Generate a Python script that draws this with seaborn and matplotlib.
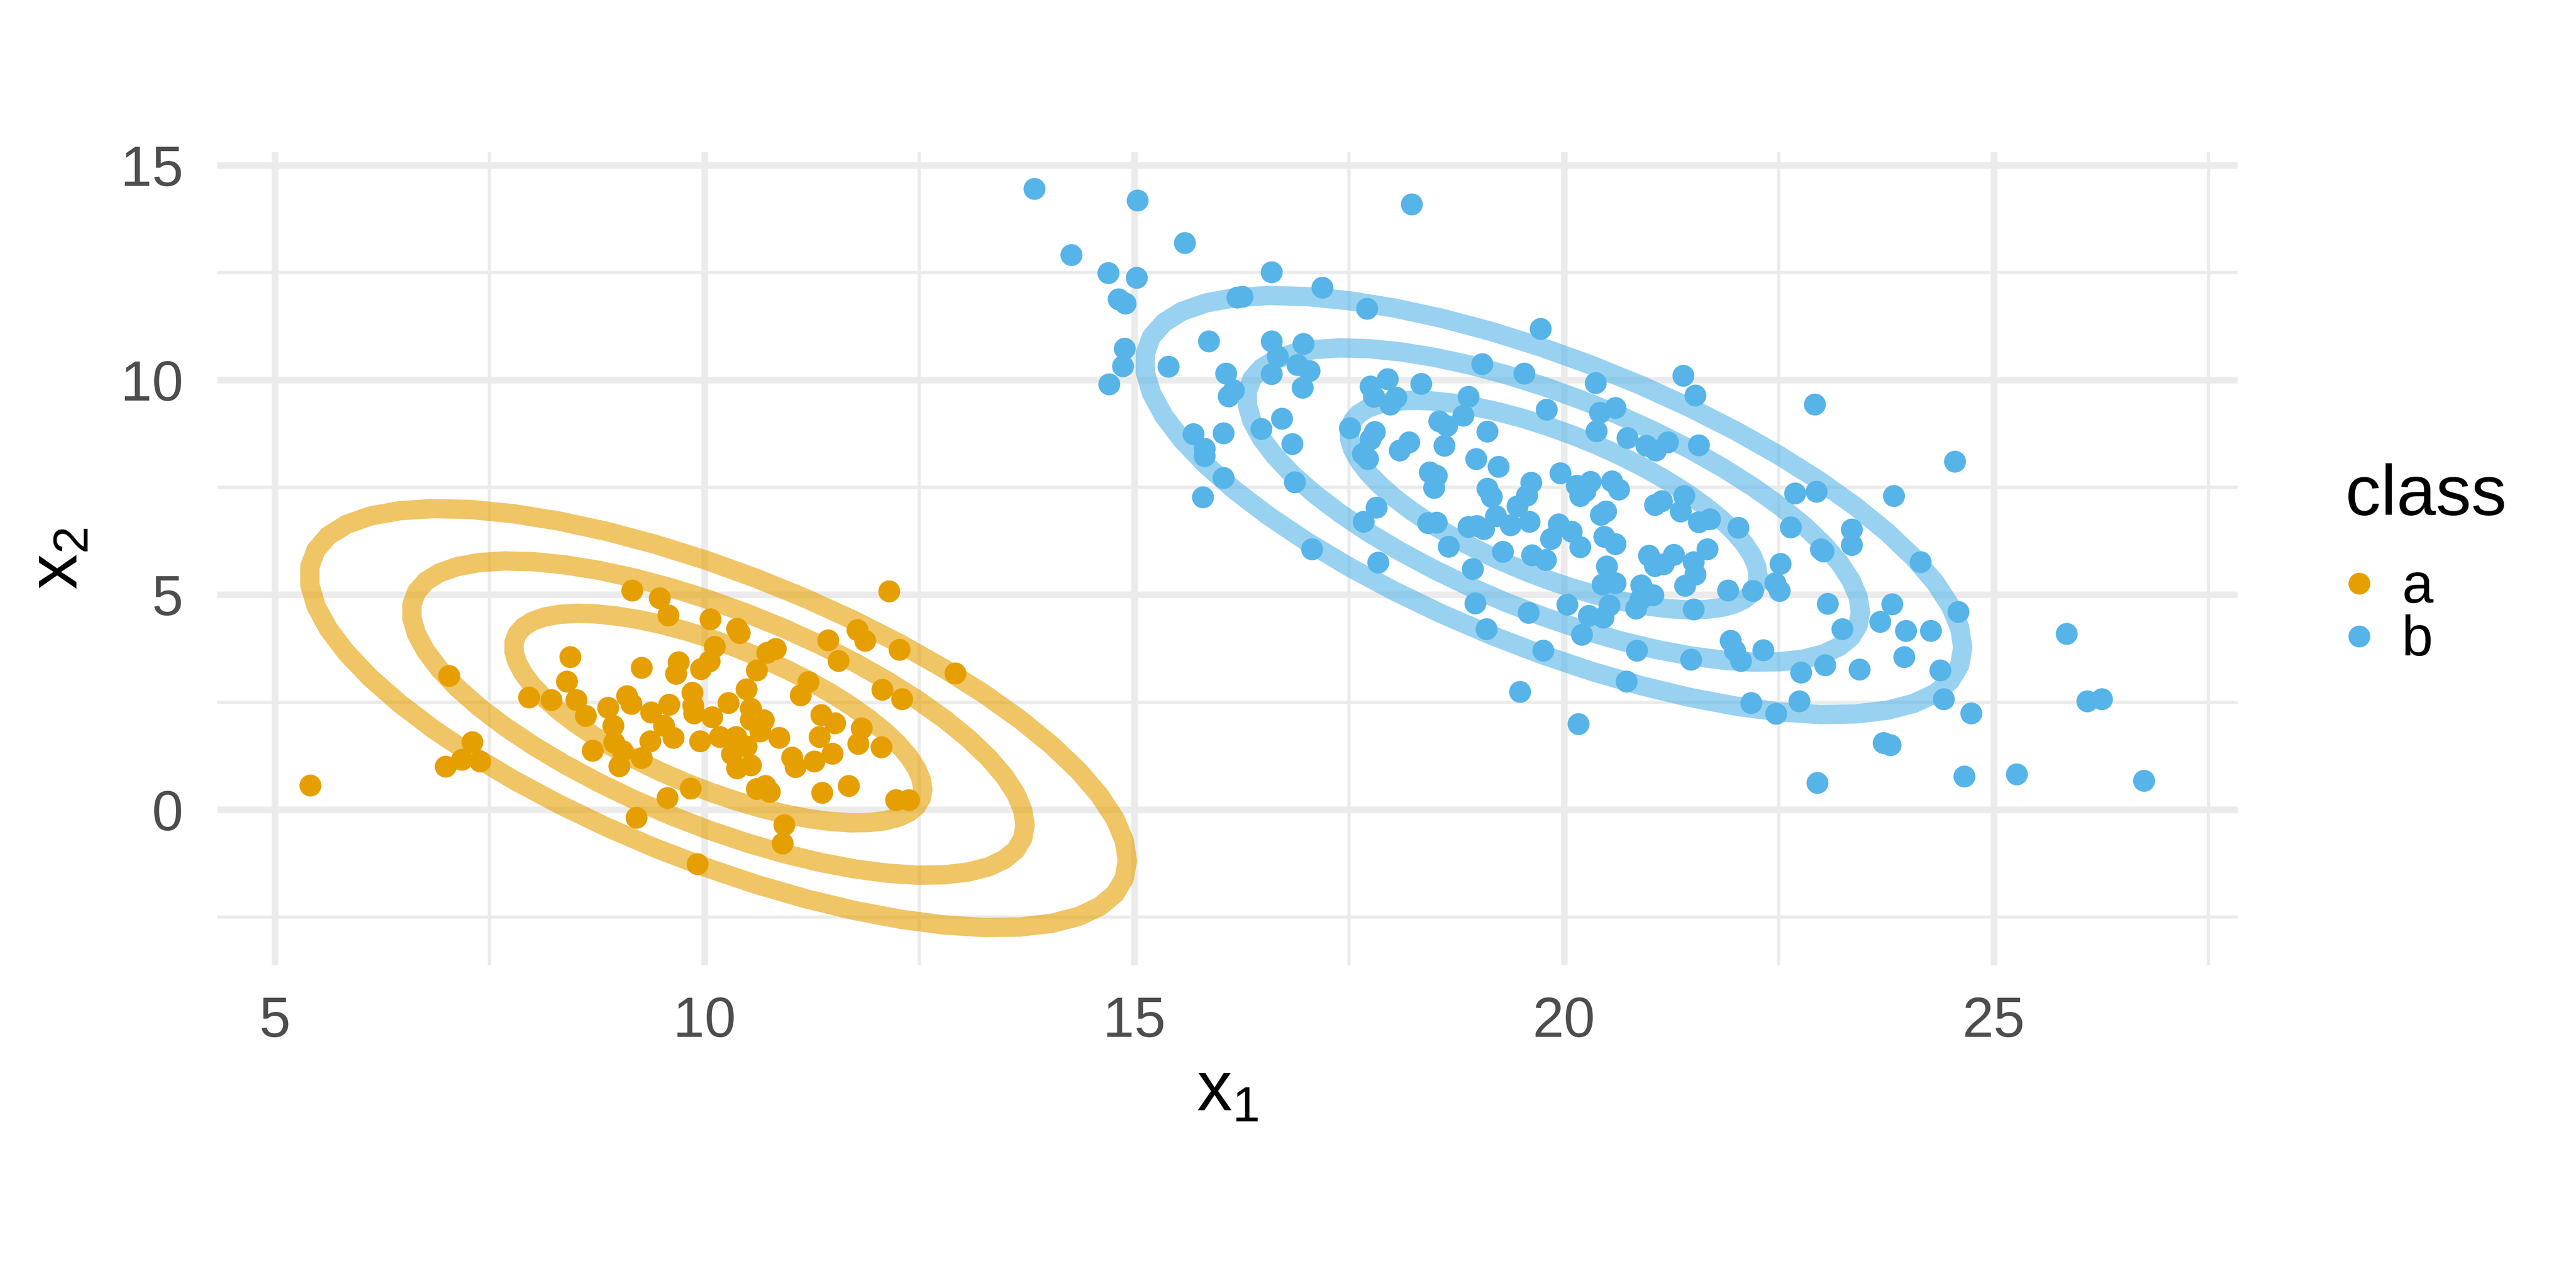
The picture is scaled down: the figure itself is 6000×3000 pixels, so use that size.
import numpy as np
import pandas as pd
import matplotlib
matplotlib.use("Agg")
import matplotlib.pyplot as plt
from matplotlib.lines import Line2D
from matplotlib.ticker import MultipleLocator
import seaborn as sns

# ---------------- data ----------------
a_x1 = [5.415, 7.03, 7.30, 6.99, 7.18, 7.39,
        9.16, 9.48, 9.58, 10.07, 10.38, 10.41,
        12.15, 11.78, 11.87, 11.44, 12.27, 12.92, 11.56,
        10.12, 10.06, 9.96, 9.70, 9.67, 9.27,
        8.44, 8.40, 7.96, 8.22, 8.51, 8.62, 8.88,
        9.10, 9.15, 8.94, 8.70, 8.95, 9.05, 9.01, 9.27,
        9.38, 9.59, 9.53, 9.64, 9.37, 9.86, 9.88, 9.87,
        10.09, 10.28, 10.49, 10.61, 10.73, 10.83,
        10.54, 10.54, 10.69, 9.95, 10.18, 10.37, 10.49, 10.32,
        10.65, 10.87, 10.38, 10.54,
        11.21, 11.12, 11.36, 11.52, 11.34, 11.02, 11.06, 11.28, 11.49,
        11.83, 11.79, 12.06, 12.07, 12.30,
        9.84, 9.57, 9.21, 9.92, 10.61, 10.71, 10.76,
        10.93, 10.91, 11.37, 11.68, 12.23, 12.38]
a_x2 = [0.56, 3.11, 1.57, 1.00, 1.16, 1.12,
        5.10, 4.92, 4.52, 4.43, 4.21, 4.11,
        5.08, 4.18, 3.93, 3.94, 3.72, 3.17, 3.46,
        3.79, 3.45, 3.27, 3.43, 3.16, 3.30,
        3.55, 2.98, 2.61, 2.55, 2.55, 2.18, 2.37,
        2.64, 2.46, 1.95, 1.37, 1.56, 1.36, 1.01, 1.20,
        2.26, 2.44, 1.95, 1.67, 1.59, 2.72, 2.24, 2.42,
        2.15, 2.48, 2.80, 3.24, 3.65, 3.74,
        2.35, 2.09, 2.08, 1.59, 1.69, 1.69, 1.47, 1.29,
        1.82, 1.67, 0.96, 1.03,
        2.97, 2.66, 2.20, 2.01, 1.69, 1.21, 0.99, 1.12, 1.30,
        1.89, 1.53, 1.45, 2.79, 2.57,
        0.49, 0.27, -0.19, -1.27, 0.48, 0.55, 0.41,
        -0.36, -0.79, 0.39, 0.55, 0.22, 0.22]

b_x1 = [13.84, 15.04, 18.23, 14.27, 15.59, 14.70, 15.03, 16.60, 17.19, 14.82,
        14.90, 16.20, 16.26, 17.71, 14.89, 14.87, 14.71, 15.40, 15.87, 16.60,
        16.97, 16.67, 16.90, 17.04, 16.60, 16.96, 16.07, 16.16, 16.10, 19.05,
        19.54, 17.95, 17.75, 17.79, 17.98, 18.05, 18.34, 18.89, 18.83, 18.55,
        18.64, 19.11, 18.61, 18.98, 19.24, 18.44, 18.52, 18.49, 19.11, 17.51,
        17.80, 17.75, 17.66, 17.72, 18.20, 18.09, 16.72, 16.48, 16.84, 15.69,
        16.04, 15.82, 15.82, 16.04, 16.87, 15.80,
        19.80, 20.37, 20.42, 20.38, 19.96, 20.15, 20.31, 20.19, 20.25, 20.49,
        20.43, 19.94, 20.09, 19.85, 20.19, 20.47, 19.79, 19.63, 20.50, 20.45,
        20.04, 20.29, 20.46, 20.53, 20.21, 19.62, 19.57, 19.60, 19.46, 17.82,
        17.67, 18.42, 18.52, 18.89, 18.99, 19.07, 19.21, 19.38, 19.16, 18.66,
        17.84, 19.29, 18.94, 18.97, 19.59, 19.10,
        21.39, 21.53, 22.92, 20.60, 20.74, 20.96, 21.07, 21.21, 21.57, 20.56,
        20.64, 21.06, 21.14, 21.40, 21.36, 21.57, 21.70, 22.03, 22.69, 22.94,
        22.64, 22.99, 23.02, 20.60, 20.99, 21.06, 21.16, 21.28, 21.51, 21.67,
        21.53, 21.41, 20.60, 20.90, 21.04, 20.89, 20.84, 21.51, 21.91, 22.20,
        22.52, 22.46, 22.51, 23.07, 21.94, 23.24,
        19.76, 20.85, 21.48, 21.99, 22.06, 22.32, 22.76, 23.04, 20.73, 19.49,
        20.17, 22.18, 22.47, 22.74, 22.95,
        24.55, 23.84, 23.35, 23.35, 24.15, 23.82, 23.68, 23.98, 24.27, 24.59,
        23.96, 23.44, 24.38, 24.42, 24.74, 23.72, 23.80, 24.66, 25.27, 25.85,
        26.09, 26.26, 26.75,
        17.07, 19.73]
b_x2 = [14.45, 14.18, 14.09, 12.91, 13.19, 12.49, 12.38, 12.51, 12.15, 11.88,
        11.78, 11.92, 11.94, 11.66, 10.73, 10.32, 9.90, 10.31, 10.90, 10.90,
        10.84, 10.55, 10.35, 10.21, 10.14, 9.82, 10.15, 9.76, 9.62, 10.37,
        10.15, 10.02, 9.85, 9.61, 9.43, 9.59, 9.91, 9.61, 9.17, 9.04,
        8.93, 8.80, 8.47, 8.16, 7.98, 7.85, 7.77, 7.49, 7.47, 8.88,
        8.79, 8.62, 8.28, 8.16, 8.55, 8.36, 9.10, 8.86, 8.51, 8.74,
        8.76, 8.40, 8.23, 7.72, 7.62, 7.27,
        9.31, 9.93, 9.24, 8.81, 7.83, 7.54, 7.63, 7.30, 7.41, 6.94,
        6.86, 6.64, 6.47, 6.30, 6.11, 6.35, 5.81, 5.92, 5.66, 5.24,
        4.77, 4.51, 4.47, 4.75, 4.07, 7.61, 7.31, 6.70, 7.06, 7.03,
        6.70, 6.67, 6.68, 6.58, 6.60, 6.53, 6.83, 6.62, 7.28, 6.12,
        5.75, 6.00, 5.60, 4.80, 4.58, 4.20,
        10.10, 9.64, 9.43, 9.35, 8.65, 8.47, 8.36, 8.55, 8.48, 7.64,
        7.45, 7.09, 7.18, 7.30, 6.94, 6.69, 6.76, 6.56, 7.36, 7.40,
        6.57, 6.06, 6.01, 6.18, 5.91, 5.67, 5.71, 5.93, 5.76, 6.06,
        5.47, 5.21, 5.27, 5.22, 4.99, 4.89, 4.68, 4.66, 5.10, 5.09,
        5.72, 5.27, 5.09, 4.79, 3.93, 4.20,
        3.70, 3.70, 3.49, 3.70, 3.46, 3.71, 3.19, 3.36, 2.98, 2.74,
        1.99, 2.48, 2.23, 2.52, 0.62,
        8.10, 7.30, 6.52, 6.16, 5.76, 4.78, 4.37, 4.16, 4.16, 4.60,
        3.55, 3.26, 3.24, 2.57, 2.24, 1.55, 1.50, 0.77, 0.82, 4.09,
        2.52, 2.57, 0.67,
        6.06, 11.19]

classes = ["a", "b"]
class_colors = ["#E69F00", "#56B4E9"]

# ellipse parameters (centre per class, shared spread/correlation, radii)
ell_center_x1 = [10.16, 19.88]
ell_center_x2 = [2.13, 7.09]
ell_sd = [1.19, 1.22]
ell_rho = -0.68
ell_radii = [2, 3, 4]

# ---------------- build tables ----------------
pts = pd.DataFrame({
    "x1": a_x1 + b_x1,
    "x2": a_x2 + b_x2,
    "class": ["a"] * len(a_x1) + ["b"] * len(b_x1),
})

sx, sy = ell_sd
cov = np.array([[sx * sx, ell_rho * sx * sy], [ell_rho * sx * sy, sy * sy]])
chol_upper = np.linalg.cholesky(cov).T
theta = np.linspace(0, 2 * np.pi, 52)
unit_circle = np.column_stack([np.cos(theta), np.sin(theta)])
rows = []
for ci, cls in enumerate(classes):
    for r in ell_radii:
        path = np.array([ell_center_x1[ci], ell_center_x2[ci]]) + r * unit_circle @ chol_upper
        for k, (px, py) in enumerate(path):
            rows.append({"class": cls, "level": f"{cls}{r}", "order": k, "x1": px, "x2": py})
ell = pd.DataFrame(rows)

# ---------------- style ----------------
sns.set_theme(style="white")
plt.rcParams["font.family"] = ["Liberation Sans", "DejaVu Sans"]
plt.rcParams["mathtext.default"] = "regular"
plt.rcParams["text.color"] = "black"

palette = dict(zip(classes, class_colors))

fig = plt.figure(figsize=(20, 10), dpi=300)
ax = fig.add_axes([0.0843, 0.2507, 0.8687 - 0.0843, 0.882 - 0.2507])

sns.lineplot(data=ell, x="x1", y="x2", hue="class", units="level", estimator=None,
             sort=False, palette=palette, linewidth=10.8, alpha=0.6, legend=False,
             ax=ax, zorder=2)
sns.scatterplot(data=pts, x="x1", y="x2", hue="class", palette=palette, s=150,
                linewidth=0, legend=False, ax=ax, zorder=3)

ax.set_xlim(4.33, 27.84)
ax.set_ylim(-3.62, 15.31)
ax.xaxis.set_major_locator(MultipleLocator(5))
ax.xaxis.set_minor_locator(MultipleLocator(2.5))
ax.yaxis.set_major_locator(MultipleLocator(5))
ax.yaxis.set_minor_locator(MultipleLocator(2.5))
ax.grid(which="major", color="#EBEBEB", linewidth=3.7)
ax.grid(which="minor", color="#EBEBEB", linewidth=1.8)
ax.set_axisbelow(True)
for sp in ax.spines.values():
    sp.set_visible(False)
ax.tick_params(which="both", length=0)
ax.tick_params(axis="x", pad=17, labelsize=31.5, labelcolor="#4D4D4D")
ax.tick_params(axis="y", pad=19, labelsize=31.5, labelcolor="#4D4D4D")

ax.set_xlabel(r"$x_1$", fontsize=39.5, color="black", labelpad=6)
ax.set_ylabel(r"$x_2$", fontsize=39.5, color="black", labelpad=16)

handles = [Line2D([0], [0], marker="o", linestyle="", markersize=12.2,
                  markerfacecolor=c, markeredgewidth=0) for c in class_colors]
leg = ax.legend(handles, classes, title="class", loc="center left",
                bbox_to_anchor=(0.8995, 0.561), bbox_transform=fig.transFigure,
                frameon=False, fontsize=31.5, title_fontsize=39.5,
                handlelength=0.5, handletextpad=0.5, labelspacing=0.0,
                borderpad=0, alignment="left")
for t in leg.get_texts():
    t.set_color("black")
leg.get_title().set_color("black")
try:
    leg._legend_box.sep = 18
except Exception:
    pass

fig.savefig("out.png", dpi=300, facecolor="white")
